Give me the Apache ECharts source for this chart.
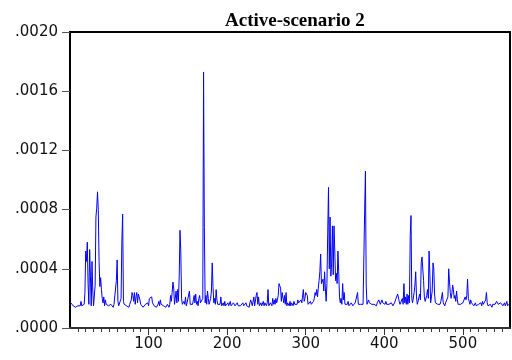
<!DOCTYPE html>
<html>
<head>
<meta charset="utf-8">
<script src="https://cdn.jsdelivr.net/npm/echarts@6/dist/echarts.min.js"></script>
<style>
  html, body { margin: 0; padding: 0; background: #fff; }
  #active-chart { width: 512px; height: 360px; }
</style>
</head>
<body>
<div id="active-chart"></div>
<script>
const activeE5 = [
  17, 16, 16, 15, 16, 15, 14, 15, 15, 15,
  15, 16, 15, 18, 15, 14, 15, 16, 24, 52,
  45, 58, 30, 16, 53, 35, 15, 45, 25, 15,
  16, 29, 75, 81, 92, 80, 45, 28, 34, 26,
  20, 17, 21, 15, 19, 16, 15, 17, 15, 16,
  15, 16, 17, 15, 14, 16, 17, 15, 32, 46,
  18, 15, 16, 15, 20, 58, 77, 18, 16, 15,
  17, 15, 16, 15, 14, 16, 15, 19, 24, 22,
  18, 24, 16, 21, 24, 17, 23, 24, 19, 16,
  15, 16, 14, 15, 15, 16, 15, 16, 17, 15,
  20, 21, 19, 21, 17, 16, 15, 16, 15, 14,
  15, 16, 18, 15, 19, 16, 15, 17, 15, 14,
  15, 14, 15, 16, 15, 14, 16, 22, 18, 24,
  31, 27, 16, 20, 25, 17, 26, 18, 35, 66,
  52, 20, 16, 15, 18, 16, 21, 15, 17, 16,
  18, 25, 16, 15, 17, 16, 19, 22, 17, 23,
  16, 18, 15, 20, 22, 17, 18, 16, 20, 173,
  68, 17, 22, 16, 25, 20, 16, 18, 20, 25,
  44, 28, 17, 20, 16, 26, 19, 16, 15, 17,
  16, 21, 15, 16, 17, 15, 18, 15, 16, 15,
  17, 15, 16, 18, 15, 16, 15, 17, 16, 15,
  16, 15, 17, 15, 16, 14, 15, 16, 15, 17,
  15, 16, 15, 17, 15, 16, 15, 14, 17, 19,
  20, 15, 16, 21, 15, 16, 22, 24, 16, 21,
  15, 16, 17, 15, 16, 18, 15, 17, 16, 15,
  17, 26, 15, 16, 17, 16, 15, 20, 16, 19,
  16, 20, 17, 19, 22, 30, 31, 27, 18, 24,
  23, 17, 22, 16, 24, 15, 17, 16, 15, 18,
  15, 17, 16, 15, 18, 16, 15, 17, 16, 19,
  17, 18, 16, 19, 17, 16, 26, 18, 20, 24,
  25, 22, 16, 17, 15, 18, 16, 15, 17, 18,
  20, 24, 22, 26, 21, 27, 32, 38, 50, 30,
  29, 33, 25, 38, 27, 18, 30, 64, 95, 40,
  75, 35, 44, 69, 36, 69, 52, 32, 37, 30,
  52, 38, 21, 17, 20, 16, 30, 19, 24, 16,
  15, 17, 16, 18, 15, 16, 15, 17, 16, 15,
  16, 15, 17, 16, 18, 24, 16, 15, 17, 16,
  15, 17, 16, 16, 79, 106, 29, 16, 17, 19,
  17, 16, 18, 16, 15, 17, 16, 15, 16, 15,
  17, 16, 19, 18, 16, 15, 19, 17, 16, 17,
  16, 18, 16, 15, 17, 16, 15, 16, 17, 16,
  15, 16, 17, 16, 20, 19, 23, 22, 18, 16,
  17, 16, 20, 16, 30, 17, 21, 16, 23, 16,
  22, 17, 62, 76, 20, 17, 16, 24, 29, 38,
  21, 16, 18, 17, 23, 19, 44, 48, 49, 32,
  21, 18, 17, 22, 26, 20, 52, 37, 17, 21,
  25, 44, 40, 23, 17, 16, 18, 16, 15, 17,
  16, 18, 21, 24, 17, 16, 15, 17, 18, 16,
  21, 40, 31, 24, 20, 23, 29, 26, 20, 22,
  18, 25, 19, 16, 15, 17, 16, 15, 16, 17,
  16, 18, 21, 19, 22, 33, 20, 18, 16, 19,
  17, 16, 18, 15, 16, 17, 15, 16, 15, 16,
  15, 16, 17, 15, 18, 16, 15, 17, 19, 24,
  17, 15, 16, 15, 16, 15, 14, 16, 15, 17,
  16, 17, 18, 17, 16, 15, 16, 17, 16, 18,
  15, 16, 17, 15, 16, 18, 15, 16
];
const xLabels = [100, 200, 300, 400, 500];
const yTicks = [0, 0.0004, 0.0008, 0.0012, 0.0016, 0.0020];

const chart = echarts.init(document.getElementById("active-chart"));

const seriesData = activeE5.map((v, i) => [i + 1, v * 1e-5]);
let minorTicks = [];
for (let t = 10; t < 560; t += 10) {
  if (t % 100 !== 0) minorTicks.push(t);
}

const option = {
  animation: false,
  title: {
    text: "Active-scenario 2",
    left: 220,
    top: 7,
    textStyle: {
      fontFamily: "Liberation Serif",
      fontWeight: "bold",
      fontSize: 19,
      color: "#000",
    },
  },
  grid: {
    left: 70,
    right: 2,
    top: 32,
    bottom: 32,
    show: true,
    borderColor: "#000",
    borderWidth: 2,
  },
  xAxis: [
    {
      type: "value",
      min: 0,
      max: 560,
      axisLine: { show: true, onZero: false, lineStyle: { color: "#333", width: 2 } },
      axisTick: {
        show: true,
        inside: false,
        length: 4,
        customValues: minorTicks,
        lineStyle: { color: "#333" },
      },
      axisLabel: {
        customValues: xLabels,
        margin: 9,
        fontFamily: "DejaVu Sans",
        fontSize: 15,
        color: "#111",
      },
      splitLine: { show: false },
    },
    {
      // longer ticks at the labelled positions
      type: "value",
      position: "bottom",
      min: 0,
      max: 560,
      axisLine: { show: false },
      axisTick: {
        show: true,
        inside: false,
        length: 7,
        customValues: xLabels,
        lineStyle: { color: "#333" },
      },
      axisLabel: { show: false },
      splitLine: { show: false },
    },
  ],
  yAxis: {
    type: "value",
    min: 0,
    max: 0.002,
    interval: 0.0004,
    axisLine: { show: true, lineStyle: { color: "#000", width: 2 } },
    axisTick: {
      show: true,
      inside: false,
      length: 8,
      customValues: yTicks,
      lineStyle: { color: "#555" },
    },
    axisLabel: {
      customValues: yTicks,
      margin: 12,
      fontFamily: "DejaVu Sans",
      fontSize: 15,
      color: "#111",
      formatter: function (value) {
        return value.toFixed(4).replace(/^0/, "");
      },
    },
    splitLine: { show: false },
  },
  series: [
    {
      type: "line",
      xAxisIndex: 0,
      data: seriesData,
      symbol: "none",
      lineStyle: { color: "#0000ff", width: 1 },
    },
  ],
};
option && chart.setOption(option);
</script>
</body>
</html>
